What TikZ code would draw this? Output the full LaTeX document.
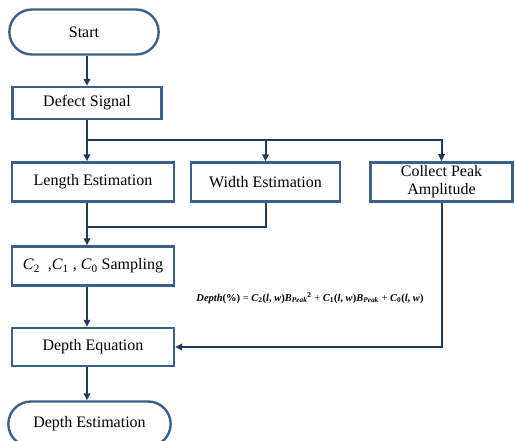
\documentclass[tikz,border=0pt]{standalone}
\usepackage{fontspec}
\setmainfont{Liberation Serif}
\usetikzlibrary{arrows.meta,shapes.misc}
\definecolor{boxblue}{HTML}{3A5F8C}
\definecolor{linenavy}{HTML}{1F3A60}
\begin{document}
\begin{tikzpicture}[>={Triangle[length=7pt,width=6.5pt]},
  every node/.style={font=\fontsize{16}{19}\selectfont},
  block/.style={rectangle, draw=boxblue, line width=2.4pt, minimum width=162pt, minimum height=39pt, align=center},
  terminal/.style={rounded rectangle, draw=boxblue, line width=2.4pt, minimum height=45pt},
  conn/.style={draw=linenavy, line width=2pt}]
        \useasboundingbox (0,0) rectangle (515pt,-441pt);

          \node[terminal, minimum width=156pt] (start) at (84pt,-32pt) {Start};
          \node[block, minimum width=149pt, minimum height=32pt] (defect) [below of=start, node distance=71pt, xshift=3pt] {Defect Signal};
          \node[block] (length) [below of=defect, node distance=79pt, xshift=6pt] {Length Estimation};
          \node[block, minimum width=149pt] (width) [right of=length, node distance=172.5pt] {Width Estimation};
          \node[block, minimum width=142pt] (collect) [right of=width, node distance=176pt] {Collect Peak\\[-1pt]Amplitude};
          \node[block] (sampling) [below of=length, node distance=84pt] {\textit{C}\textsubscript{2}\ \ ,\textit{C}\textsubscript{1} , \textit{C}\textsubscript{0} Sampling};
          \node[block, minimum height=38pt] (deptheq) [below of=sampling, node distance=81pt] {Depth Equation};
          \node[terminal, minimum width=169pt] (depthest) [below of=deptheq, node distance=77pt, xshift=-3.5pt] {Depth Estimation};

          % equation between the boxes
          \node[font=\fontsize{10.5}{12}\selectfont] (eq) at (310pt,-298pt) {\textbf{\textit{Depth}(\%)} = \textbf{\textit{C}\textsubscript{2}(\textit{l}, \textit{w})\textit{B}\textsubscript{\textit{Peak}}}\textsuperscript{\textbf{2}} + \textbf{\textit{C}\textsubscript{1}(\textit{l}, \textit{w})\textit{B}\textsubscript{\textit{Peak}}} + \textbf{\textit{C}\textsubscript{0}(\textit{l}, \textit{w})}};

          \coordinate[below of=defect, node distance=37pt] (split);
          \coordinate[below of=split, node distance=87pt] (merge);

          \draw[conn, ->] (start.south -| defect) -- (defect);
          \draw[conn] (defect) -- (split);
          \draw[conn, ->] (split) -| (collect);
          \draw[conn, ->] (split) -- (split |- length.north);
          \draw[conn, ->] (split -| width) -- (width);
          \draw[conn] (length.south -| merge) -- (merge);
          \draw[conn] (width) |- (merge);
          \draw[conn, ->] (merge) -- (merge |- sampling.north);
          \draw[conn, ->] (sampling.south -| merge) -- (deptheq.north -| merge);
          \draw[conn, ->] (deptheq.south -| merge) -- (depthest.north -| merge);
          \draw[conn, ->] (collect) |- (deptheq);

        \end{tikzpicture}
\end{document}
